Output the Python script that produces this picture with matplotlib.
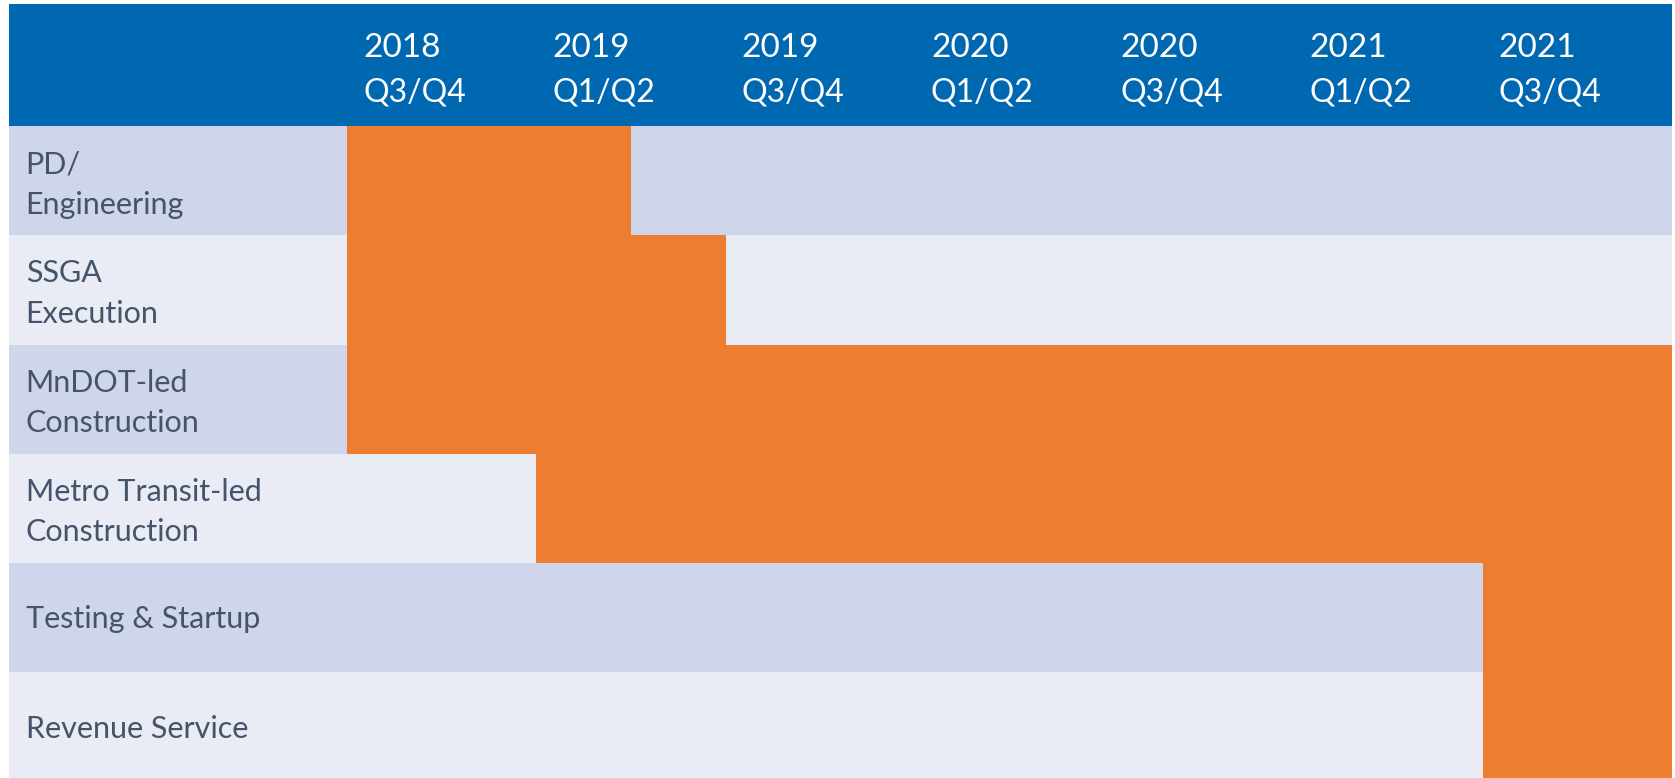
import matplotlib
matplotlib.use("Agg")
import matplotlib.pyplot as plt

# Schedule data (units = half-year periods starting 2018 Q3/Q4)
periods = ["2018\nQ3/Q4", "2019\nQ1/Q2", "2019\nQ3/Q4", "2020\nQ1/Q2",
           "2020\nQ3/Q4", "2021\nQ1/Q2", "2021\nQ3/Q4"]
tasks = ["PD/\nEngineering", "SSGA\nExecution", "MnDOT-led\nConstruction",
         "Metro Transit-led\nConstruction", "Testing & Startup", "Revenue Service"]
starts = [0, 0, 0, 1, 6, 6]
ends = [1.5, 2, 7, 7, 7, 7]

BLUE = "#0068B0"
ORANGE = "#ED7D31"
ROW_DARK = "#CFD5EA"
ROW_LIGHT = "#E9EBF5"
TEXT = "#44546A"

plt.rcParams["font.family"] = ["Lato", "DejaVu Sans"]

fig = plt.figure(figsize=(16.75, 7.78), dpi=100)
ax = fig.add_axes([9 / 1675, 0, 1663 / 1675, 774 / 778])

label_w = 1.786
head_h = 1.12
n_cols = len(periods)

ax.set_xlim(-label_w, n_cols)
ax.set_ylim(5.97, -head_h)
ax.axis("off")

# header band
ax.barh(-head_h / 2, n_cols + label_w, left=-label_w, height=head_h,
        color=BLUE, linewidth=0)
for i, p in enumerate(periods):
    year, half = p.split("\n")
    ax.text(i + 0.085, -0.635, year, color="white", fontsize=24, va="baseline", ha="left")
    ax.text(i + 0.085, -0.223, half, color="white", fontsize=23, va="baseline", ha="left")

# row backgrounds, bars, labels
for r, (task, s, e) in enumerate(zip(tasks, starts, ends)):
    bg = ROW_DARK if r % 2 == 0 else ROW_LIGHT
    ax.barh(r + 0.5, n_cols + label_w, left=-label_w, height=1, color=bg, linewidth=0)
    ax.barh(r + 0.5, e - s, left=s, height=1, color=ORANGE, linewidth=0)
    lines = task.split("\n")
    if len(lines) == 2:
        ax.text(-label_w + 0.088, r + 0.43, lines[0], color=TEXT, fontsize=22, va="baseline")
        ax.text(-label_w + 0.088, r + 0.80, lines[1], color=TEXT, fontsize=22, va="baseline")
    else:
        ax.text(-label_w + 0.088, r + 0.60, lines[0], color=TEXT, fontsize=22, va="baseline")

fig.savefig("out.png", dpi=100, facecolor="white")
